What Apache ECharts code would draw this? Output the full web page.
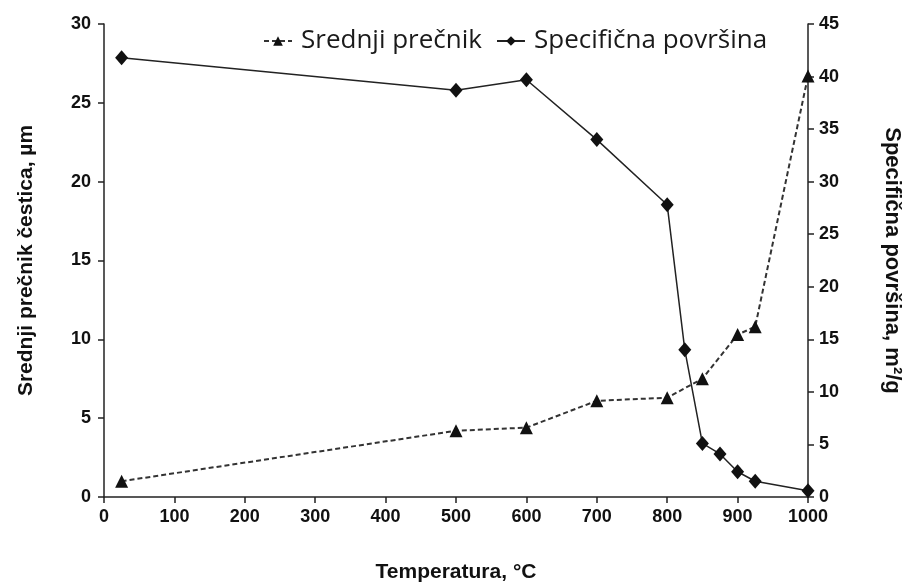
<!DOCTYPE html>
<html><head><meta charset="utf-8">
<script src="https://cdn.jsdelivr.net/npm/echarts@6/dist/echarts.min.js"></script>
<style>html,body{margin:0;padding:0;background:#fff}#c{width:905px;height:584px}</style>
</head><body><div id="c"></div>
<script>
const xTicks = [0,100,200,300,400,500,600,700,800,900,1000];
const diamTemps = [25,500,600,700,800,850,900,925,1000];
const diamValues = [1.0,4.2,4.4,6.1,6.3,7.5,10.3,10.8,26.7];
const surfTemps = [25,500,600,700,800,825,850,875,900,925,1000];
const surfValues = [41.8,38.7,39.7,34.0,27.8,14.0,5.1,4.1,2.4,1.5,0.6];
const seriesNames = ['Srednji prečnik','Specifična površina'];

const font = 'Liberation Sans, Arial, sans-serif';
const chart = echarts.init(document.getElementById('c'));
const axisCommon = {
  axisLine:{show:true,lineStyle:{color:'#222',width:1.5}},
  axisTick:{show:true,inside:false,length:6,lineStyle:{color:'#222',width:1.5}},
  splitLine:{show:false},
  axisLabel:{color:'#111',fontFamily:font,fontWeight:'bold',fontSize:18},
  nameTextStyle:{color:'#111',fontFamily:font,fontWeight:'bold',fontSize:21}
};
chart.setOption({
  backgroundColor:'#fff',
  animation:false,
  grid:{left:104,right:97,top:24,bottom:87,containLabel:false,outerBoundsMode:'none'},
  legend:{
    top:23,left:258,itemGap:14,itemWidth:28,itemHeight:12,
    textStyle:{fontFamily:'Open Sans, sans-serif',fontSize:26,color:'#1a1a1a',padding:[0,0,0,4]},
    data:seriesNames
  },
  xAxis:Object.assign({},axisCommon,{
    type:'value',min:0,max:1000,interval:100,
    name:'Temperatura, °C',nameLocation:'middle',nameGap:65,
    axisLabel:Object.assign({},axisCommon.axisLabel,{margin:11,formatter:v=>xTicks.includes(v)?String(v):''})
  }),
  yAxis:[
    Object.assign({},axisCommon,{
      type:'value',min:0,max:30,interval:5,position:'left',
      name:'Srednji prečnik čestica, µm',nameLocation:'middle',nameRotate:90,nameGap:67,
      axisLabel:Object.assign({},axisCommon.axisLabel,{margin:13})
    }),
    Object.assign({},axisCommon,{
      type:'value',min:0,max:45,interval:5,position:'right',
      name:'Specifična površina, m²/g',nameLocation:'middle',nameRotate:-90,nameGap:73,
      nameTextStyle:Object.assign({},axisCommon.nameTextStyle,{fontSize:22}),
      axisLabel:Object.assign({},axisCommon.axisLabel,{margin:11})
    })
  ],
  series:[
    {
      name:seriesNames[0],type:'line',yAxisIndex:0,
      data:diamTemps.map((t,i)=>[t,diamValues[i]]),
      symbol:'triangle',symbolSize:13,
      lineStyle:{color:'#333',width:2,type:[5,3]},
      itemStyle:{color:'#111'}
    },
    {
      name:seriesNames[1],type:'line',yAxisIndex:1,
      data:surfTemps.map((t,i)=>[t,surfValues[i]]),
      symbol:'diamond',symbolSize:[13,15],
      lineStyle:{color:'#222',width:1.5},
      itemStyle:{color:'#111'}
    }
  ]
});
</script></body></html>
